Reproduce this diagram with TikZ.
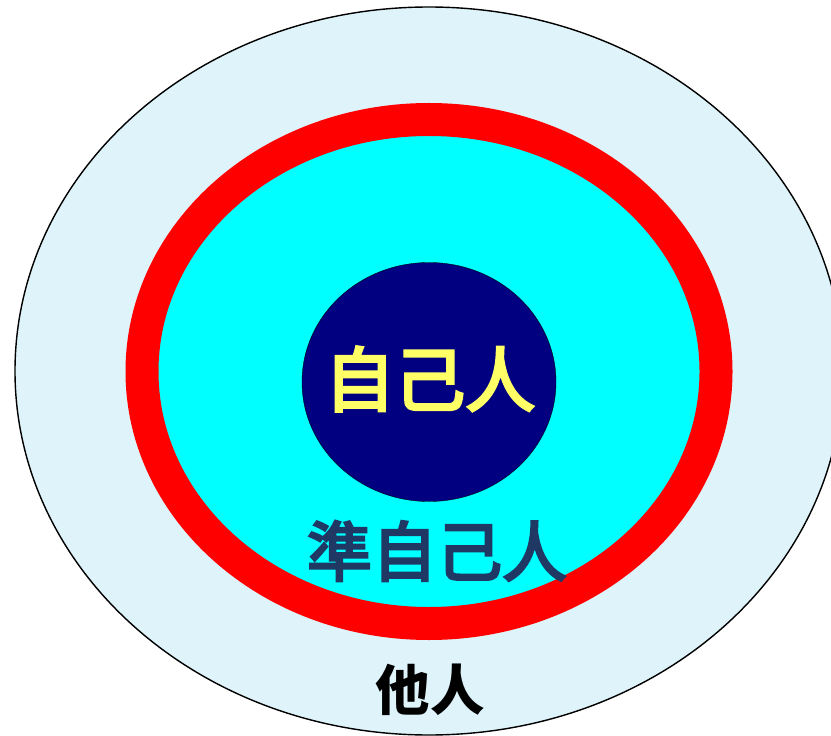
\documentclass[tikz,border=0pt]{standalone}
\usepackage{fontspec}
\usepackage{tikz}
\newfontfamily\cjk{Noto Sans CJK TC}
\newfontfamily\cjkmid[FakeBold=4]{Noto Sans CJK TC}

\begin{document}
\begin{tikzpicture}[x = 0.02cm, y = -0.02cm]
            \useasboundingbox (0,0) rectangle (831,736);
            \clip (0,0) rectangle (831,736);
            \definecolor{otherColor}{RGB}{222,244,250}
            \definecolor{ringColor}{RGB}{255,0,0}
            \definecolor{nearColor}{RGB}{0,255,255}
            \definecolor{selfColor}{RGB}{0,0,128}
            \definecolor{selfText}{RGB}{255,255,102}
            \definecolor{nearText}{RGB}{31,56,100}

            \draw [black, line width = 0.8pt, fill = otherColor] (429,371) ellipse [x radius = 414, y radius = 364];

            \draw [ringColor, line width = 33*0.02cm, fill = nearColor] (429,371.5) ellipse [x radius = 287, y radius = 252];

            \draw [black, very thin, fill = selfColor] (429,382) ellipse [x radius = 127, y radius = 119.5];

            \node [selfText, font = \cjkmid\fontsize{40}{40}\selectfont] (self) at (430,379) {自己人};
            \node [nearText, font = \cjkmid\fontsize{37}{37}\selectfont] (near) at (437,551) {準自己人};
            \node [black, font = \cjk\bfseries\fontsize{31}{31}\selectfont] (other) at (430,690) {他人};

        \end{tikzpicture}
\end{document}
